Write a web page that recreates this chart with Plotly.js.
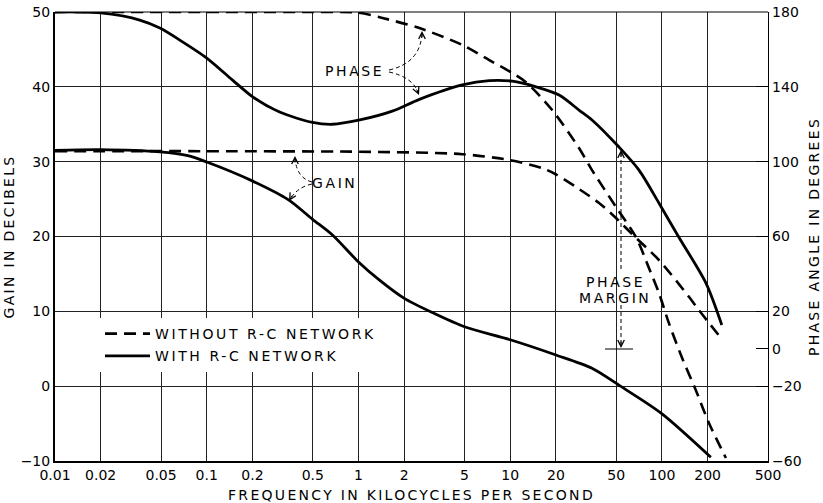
<!DOCTYPE html>
<html>
<head>
<meta charset="utf-8">
<script src="https://cdn.plot.ly/plotly-3.0.1.min.js"></script>
<style>
html, body { margin: 0; padding: 0; background: #fff; }
#chart { width: 823px; height: 503px; }
.xtitle, .ytitle, .y2title { letter-spacing: 2.3px; }
.legendtext, .annotation-text { letter-spacing: 2.6px; }
</style>
</head>
<body>
<div id="chart"></div>
<script>
// ---- data (frequency in kilocycles per second) ----
const freqTicks = [0.01, 0.02, 0.05, 0.1, 0.2, 0.5, 1, 2, 5, 10, 20, 50, 100, 200, 500];
const freqTickLabels = ["0.01", "0.02", "0.05", "0.1", "0.2", "0.5", "1", "2", "5", "10", "20", "50", "100", "200", "500"];
const gainTicks = [50, 40, 30, 20, 10, 0, -10];
const gainTickLabels = ["50", "40", "30", "20", "10", "0", "\u221210"];
const phaseTicks = [180, 140, 100, 60, 20, 0, -20, -60];
const phaseTickLabels = ["180", "140", "100", "60", "20", "0", "\u221220", "\u221260"];

// phase angle without R-C network (degrees)
const phaseWithoutFreq = [0.01, 0.1, 0.5, 1.0, 1.44, 2.52, 4.83, 7.28, 10.3, 12.7, 18.9, 28.4, 34.6, 49.8, 67.4, 82.1, 95.5, 111, 135, 167, 204, 264];
const phaseWithout = [180, 180, 180, 179.6, 176.8, 171.4, 162.4, 154.3, 147.4, 142.5, 127.6, 107.3, 95.5, 75.8, 59.7, 43.2, 29.8, 13.8, -4.4, -22.0, -39.7, -58.4];

// phase angle with R-C network (degrees)
const phaseWithFreq = [0.01, 0.02, 0.0362, 0.0491, 0.0664, 0.1, 0.148, 0.201, 0.302, 0.498, 0.674, 1.02, 1.67, 2.52, 4.83, 7.28, 10.3, 14.8, 21.0, 28.4, 34.6, 52.1, 70.6, 95.5, 129, 195, 248];
const phaseWith = [180, 179.5, 175.7, 171.4, 165, 155.4, 143.6, 134.6, 126.5, 121.0, 120.0, 122.3, 127.0, 133.3, 141, 143.3, 143, 140, 135.6, 127.6, 122.3, 107.8, 95.5, 77.9, 59.7, 35.1, 12.7];

// gain without R-C network (db)
const gainWithoutFreq = [0.01, 0.1, 1.37, 4.83, 10.0, 16.2, 19.8, 28.4, 38.5, 49.8, 63.5, 95.5, 151, 175, 245];
const gainWithout = [31.4, 31.4, 31.3, 31.0, 30.2, 29.15, 28.35, 26.35, 24.48, 22.47, 20.33, 16.86, 11.91, 10.18, 6.43];

// gain with R-C network (db)
const gainWithFreq = [0.01, 0.0198, 0.0491, 0.075, 0.1, 0.201, 0.346, 0.498, 0.674, 1.0, 1.37, 1.98, 3.09, 5.05, 10.0, 19.8, 34.6, 53.3, 98.7, 210];
const gainWith = [31.5, 31.6, 31.3, 30.8, 29.95, 27.4, 24.9, 22.3, 20.2, 16.6, 14.2, 11.8, 9.8, 7.9, 6.2, 4.2, 2.4, 0, -3.6, -9.5];

const legendNames = ["WITHOUT R-C NETWORK", "WITH R-C NETWORK"];

// ---- layout helpers (pixel -> paper) ----
const L = 55, R = 55, T = 12, B = 42, W = 823, H = 503;
const PW = W - L - R, PH = H - T - B;
const X = px => (px - L) / PW;
const Y = py => (H - B - py) / PH;
const FONT = "DejaVu Sans";
const dashPat = "12px,7px";

const traces = [
  { x: phaseWithoutFreq, y: phaseWithout, yaxis: "y2", type: "scatter", mode: "lines", name: legendNames[0], legendgroup: "a", showlegend: true,
    line: { color: "#000", width: 2.6, dash: dashPat, shape: "spline", smoothing: 0.8 } },
  { x: phaseWithFreq, y: phaseWith, yaxis: "y2", type: "scatter", mode: "lines", name: legendNames[1], legendgroup: "b", showlegend: true,
    line: { color: "#000", width: 2.8, shape: "spline", smoothing: 0.8 } },
  { x: gainWithoutFreq, y: gainWithout, type: "scatter", mode: "lines", name: legendNames[0], showlegend: false,
    line: { color: "#000", width: 2.6, dash: dashPat, shape: "spline", smoothing: 0.8 } },
  { x: gainWithFreq, y: gainWith, type: "scatter", mode: "lines", name: legendNames[1], showlegend: false,
    line: { color: "#000", width: 2.8, shape: "spline", smoothing: 0.8 } }
];

function thin() { return { color: "#000", width: 1, dash: "4px,3px" }; }
function qpath(a, c, b) { return `M ${X(a[0])},${Y(a[1])} Q ${X(c[0])},${Y(c[1])} ${X(b[0])},${Y(b[1])}`; }
const shapes = [
  { type: "line", xref: "paper", yref: "paper", x0: 0, x1: 1, y0: 1, y1: 1, line: { color: "#000", width: 1.2 } },
  { type: "path", xref: "paper", yref: "paper", path: qpath([389, 70], [420, 63], [422, 34]), line: thin() },
  { type: "path", xref: "paper", yref: "paper", path: qpath([389, 72], [412, 77], [418, 92]), line: thin() },
  { type: "path", xref: "paper", yref: "paper", path: qpath([312, 182], [297, 178], [295, 159]), line: thin() },
  { type: "path", xref: "paper", yref: "paper", path: qpath([312, 184], [298, 187], [291, 198]), line: thin() },
  { type: "line", xref: "paper", yref: "paper", x0: X(621), x1: X(621), y0: Y(153), y1: Y(272), line: thin() },
  { type: "line", xref: "paper", yref: "paper", x0: X(621), x1: X(621), y0: Y(305), y1: Y(345), line: thin() },
  { type: "line", xref: "paper", yref: "paper", x0: X(605), x1: X(633), y0: Y(349), y1: Y(349), line: { color: "#000", width: 1 } }
];

function head(tx, ty, ax, ay) {
  return { xref: "paper", yref: "paper", x: X(tx), y: Y(ty), ax: ax, ay: ay, text: "", showarrow: true,
    arrowhead: 5, arrowsize: 1.3, arrowwidth: 1, arrowcolor: "#000", standoff: 0 };
}
const txtFont = { family: FONT, size: 14, color: "#000" };
function label(t, px, py) { return { xref: "paper", yref: "paper", x: X(px), y: Y(py), text: t, showarrow: false, font: txtFont, xanchor: "center", yanchor: "middle" }; }
const annotations = [
  label("PHASE", 354, 71),
  label("GAIN", 334, 183),
  label("PHASE", 615, 282),
  label("MARGIN", 615, 298),
  head(422, 31, 0, 8), head(419, 95, -3, -7), head(295, 156, 0, 8), head(289, 201, 4, -7),
  head(621, 150, 0, 8), head(621, 348, 0, -8)
];

const layout = {
  width: W, height: H, margin: { l: L, r: R, t: T, b: B, pad: 0 },
  paper_bgcolor: "#fff", plot_bgcolor: "#fff",
  font: { family: FONT, size: 14, color: "#000" }, showlegend: true,
  legend: { x: X(100), y: Y(318), xanchor: "left", yanchor: "top", bgcolor: "#fff", borderwidth: 0,
    font: { family: FONT, size: 14, color: "#000" }, traceorder: "grouped", tracegroupgap: 1, itemwidth: 45 },
  xaxis: { type: "log", range: [Math.log10(0.01), Math.log10(500)], tickmode: "array", tickvals: freqTicks, ticktext: freqTickLabels,
    showgrid: true, gridcolor: "#222", gridwidth: 1, showline: true, linecolor: "#000", linewidth: 2, ticks: "", zeroline: false,
    tickfont: { family: FONT, size: 14, color: "#000" },
    title: { text: "FREQUENCY IN KILOCYCLES PER SECOND", font: { family: FONT, size: 14, color: "#000" }, standoff: 8 }, fixedrange: true },
  yaxis: { range: [-10, 50], tickmode: "array", tickvals: gainTicks, ticktext: gainTickLabels,
    showgrid: true, gridcolor: "#222", gridwidth: 1, showline: true, linecolor: "#000", linewidth: 2, ticks: "", zeroline: false,
    tickfont: { family: FONT, size: 14, color: "#000" },
    title: { text: "GAIN IN DECIBELS", font: { family: FONT, size: 14, color: "#000" }, standoff: 3 }, fixedrange: true },
  yaxis2: { overlaying: "y", side: "right", range: [-60, 180], tickmode: "array", tickvals: phaseTicks, ticktext: phaseTickLabels,
    showgrid: false, showline: true, linecolor: "#000", linewidth: 1.3, ticks: "inside", ticklen: 12, tickwidth: 1, tickcolor: "#000", zeroline: false,
    tickfont: { family: FONT, size: 14, color: "#000" },
    title: { text: "PHASE ANGLE IN DEGREES", font: { family: FONT, size: 14, color: "#000" }, standoff: 8 }, fixedrange: true },
  shapes: shapes, annotations: annotations
};

Plotly.newPlot("chart", traces, layout, { staticPlot: true, displayModeBar: false });
</script>
</body>
</html>
